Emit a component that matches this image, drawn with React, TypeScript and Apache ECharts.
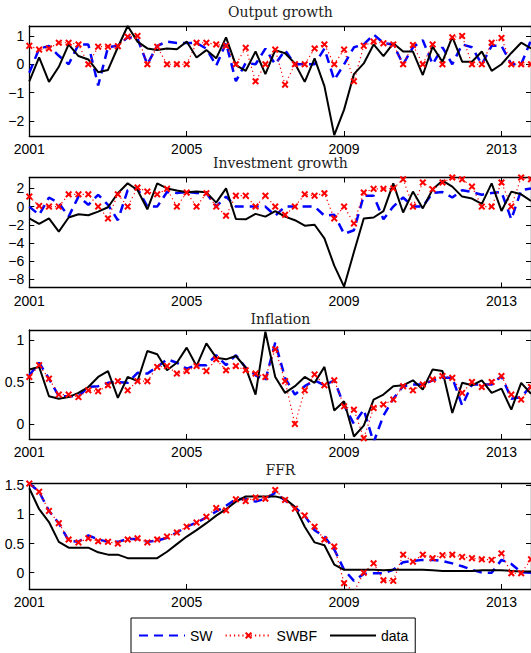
import React, { useEffect, useRef } from 'react';
import * as echarts from 'echarts';

// x: quarter index from 2001Q1
const xTickLabels = ['2001', '2005', '2009', '2013'];
const xTickIndex = [0, 16, 32, 48];

const outputTicks = [-2, -1, 0, 1];
const investTicks = [-8, -6, -4, -2, 0, 2];
const inflTicks = [0, 0.5, 1];
const ffrTicks = [0, 0.5, 1, 1.5];

const outputSW = [-0.3, 0.55, 0.65, 0.3, 0.0, 0.7, 0.7, -0.75, 0.6, 0.65, 0.95, 0.9, 0.0, 0.65, 0.8, 0.75, 0.75, 0.75, 0.55, -0.05, 0.75, -0.6, 0.05, 0.0, 0.55, 0.0, 0.5, 0.0, 0.0, 0.0, 0.55, -0.55, 0.0, 0.6, 0.7, 1.05, 0.75, 0.7, 0.0, 0.6, 0.85, 0.0, 0.6, 0.0, 0.7, 0.6, 0.0, 0.65, 0.65, 0.0, 0.0, 0.85];
const outputSWBF = [0.65, 0.52, 0.56, 0.76, 0.76, 0.7, 0.0, 0.62, 0.62, 0.64, 0.97, 1.0, 0.0, 0.62, 0.0, 0.0, 0.0, 0.76, 0.76, 0.7, 0.65, 0.0, 0.58, -0.6, 0.0, 0.52, -0.72, 0.0, 0.0, 0.56, 0.7, 0.0, 0.52, -0.6, 0.65, 0.8, 0.74, 0.7, 0.0, 0.68, 0.0, 0.7, 0.0, 0.95, 1.0, 0.0, 0.0, 0.76, 0.93, 0.0, 0.0, 0.0];
const outputData = [-0.6, 0.24, -0.62, -0.09, 0.7, 0.29, 0.17, -0.28, -0.2, 0.6, 1.35, 0.8, 0.56, 0.5, 0.56, 0.53, 0.8, 0.24, 0.5, 0.21, 0.95, -0.03, -0.23, 0.45, -0.35, 0.5, 0.39, 0.03, -0.62, 0.21, -0.77, -2.5, -1.6, -0.35, 0.03, 0.7, 0.29, 0.74, 0.45, 0.45, -0.38, 0.62, 0.09, 0.97, 0.09, 0.09, 0.45, -0.23, 0.0, 0.4, 0.76, 0.56];

const investSW = [0.0, -0.9, 1.0, 0.4, -1.1, 1.1, 0.2, 1.3, 0.2, -1.5, 1.8, 2.0, 0.0, 0.0, 1.6, 1.5, 1.6, 1.5, 1.5, 0.0, 1.1, 0.0, 0.0, 0.0, 0.0, -1.0, 0.0, 0.0, 0.0, 0.0, -1.0, -0.9, -3.0, -2.6, 1.2, 1.2, -1.4, 0.0, 1.0, 0.0, 0.0, 1.5, 1.6, 1.0, 1.8, 1.6, 1.3, 1.5, 1.6, -1.4, 1.8, 2.0];
const investSWBF = [1.1, 0.07, 0.0, 0.0, 1.35, 1.35, 1.35, 0.0, -1.3, 1.35, 0.0, 2.1, 1.65, 1.35, 1.95, 0.0, 1.55, 0.0, 1.47, 0.0, -1.0, 1.2, 1.2, 0.0, 1.2, 0.0, -0.9, 0.0, 1.35, 1.2, 1.47, -1.3, 0.0, -1.85, 1.55, 1.95, 1.95, 2.0, 3.0, 0.0, 2.65, 1.9, 2.65, 3.2, 3.0, 2.2, 0.0, 0.0, 2.65, 0.0, 3.2, 3.0];
const investData = [-1.3, -1.9, -1.3, -2.75, -1.2, -0.85, -0.95, -0.55, -0.07, 1.47, 2.56, 1.83, -0.3, 2.56, 2.0, 1.76, 1.57, 1.65, 1.57, 0.44, 2.0, -1.36, -1.4, -0.8, -1.1, -0.5, -1.1, -1.5, -2.1, -2.0, -3.5, -6.5, -8.8, -5.0, -1.3, -1.2, -0.5, 2.56, -0.65, 1.65, -0.2, 1.9, 2.85, 2.2, 1.1, 0.88, 0.3, 2.56, -0.48, 1.65, 1.35, 0.62];

const inflSW = [0.58, 0.73, 0.54, 0.33, 0.33, 0.33, 0.44, 0.45, 0.49, 0.5, 0.49, 0.61, 0.6, 0.68, 0.77, 0.73, 0.66, 0.7, 0.7, 0.82, 0.7, 0.82, 0.67, 0.58, 0.52, 0.97, 0.55, 0.35, 0.45, 0.52, 0.46, 0.52, 0.22, 0.0, 0.17, -0.22, 0.1, 0.3, 0.45, 0.47, 0.47, 0.52, 0.55, 0.55, 0.22, 0.47, 0.47, 0.47, 0.57, 0.3, 0.32, 0.45];
const inflSWBF = [0.56, 0.7, 0.54, 0.35, 0.35, 0.32, 0.4, 0.39, 0.46, 0.51, 0.4, 0.51, 0.51, 0.68, 0.69, 0.6, 0.63, 0.69, 0.63, 0.77, 0.64, 0.69, 0.64, 0.6, 0.56, 0.89, 0.51, 0.0, 0.4, 0.59, 0.46, 0.52, 0.21, 0.17, -0.17, 0.19, 0.23, 0.29, 0.45, 0.4, 0.47, 0.53, 0.57, 0.55, 0.37, 0.5, 0.44, 0.5, 0.57, 0.35, 0.29, 0.44];
const inflData = [0.65, 0.68, 0.33, 0.3, 0.32, 0.37, 0.44, 0.56, 0.63, 0.31, 0.56, 0.51, 0.87, 0.83, 0.64, 0.73, 0.91, 0.69, 0.96, 0.79, 0.77, 0.81, 0.67, 0.35, 1.1, 0.56, 0.37, 0.45, 0.56, 0.49, 0.68, 0.16, 0.27, -0.15, -0.02, 0.29, 0.35, 0.45, 0.46, 0.52, 0.41, 0.65, 0.63, 0.13, 0.49, 0.46, 0.52, 0.37, 0.42, 0.17, 0.49, 0.36];

const ffrSW = [1.53, 1.39, 1.06, 0.85, 0.55, 0.53, 0.64, 0.57, 0.53, 0.53, 0.58, 0.58, 0.53, 0.55, 0.6, 0.69, 0.79, 0.86, 0.95, 1.05, 1.15, 1.26, 1.27, 1.22, 1.27, 1.37, 1.24, 1.12, 0.98, 0.73, 0.62, 0.4, 0.05, -0.14, -0.02, -0.01, -0.01, 0.05, 0.18, 0.2, 0.22, 0.22, 0.2, 0.16, 0.11, 0.05, 0.0, 0.0, 0.22, 0.15, 0.01, 0.0];
const ffrSWBF = [1.53, 1.39, 1.06, 0.85, 0.57, 0.52, 0.59, 0.54, 0.53, 0.5, 0.57, 0.59, 0.52, 0.57, 0.62, 0.69, 0.79, 0.86, 0.96, 1.11, 1.07, 1.26, 1.23, 1.29, 1.27, 1.42, 1.25, 1.1, 0.98, 0.79, 0.57, 0.45, -0.18, -0.33, 0.0, 0.16, -0.13, -0.14, 0.31, 0.19, 0.31, 0.25, 0.3, 0.31, 0.27, 0.25, 0.23, 0.22, 0.33, -0.01, -0.01, 0.23];
const ffrData = [1.45, 1.09, 0.87, 0.53, 0.43, 0.43, 0.43, 0.35, 0.31, 0.31, 0.25, 0.25, 0.25, 0.25, 0.36, 0.49, 0.62, 0.73, 0.85, 0.98, 1.09, 1.22, 1.31, 1.31, 1.31, 1.31, 1.27, 1.13, 0.79, 0.52, 0.47, 0.14, 0.05, 0.05, 0.05, 0.05, 0.04, 0.05, 0.05, 0.05, 0.05, 0.04, 0.03, 0.03, 0.03, 0.03, 0.04, 0.04, 0.04, 0.03, 0.02, 0.02];

const seriesNames = ['SW', 'SWBF', 'data'];
const panelTitles = ['Output growth', 'Investment growth', 'Inflation', 'FFR'];

const X_MARK = 'path://M0,2 L2,0 L5,3 L8,0 L10,2 L7,5 L10,8 L8,10 L5,7 L2,10 L0,8 L3,5 Z';
const SANS = '"Liberation Sans", Arial, Helvetica, sans-serif';
const SERIF = '"DejaVu Serif", "Liberation Serif", serif';

const fmtY = (v: number) => String(v).replace('-', '\u2212');

export default function App() {
  const ref = useRef<HTMLDivElement>(null);
  useEffect(() => {
    if (!ref.current) return;
    const chart = echarts.init(ref.current, undefined, { renderer: 'svg' });
    const panels = [
      { sw: outputSW, swbf: outputSWBF, data: outputData, ticks: outputTicks, min: -2.53, max: 1.35, top: 26, height: 110, titleY: 12 },
      { sw: investSW, swbf: investSWBF, data: investData, ticks: investTicks, min: -8.9, max: 3.2, top: 177.5, height: 110, titleY: 162.5 },
      { sw: inflSW, swbf: inflSWBF, data: inflData, ticks: inflTicks, min: -0.18, max: 1.12, top: 330, height: 109, titleY: 319 },
      { sw: ffrSW, swbf: ffrSWBF, data: ffrData, ticks: ffrTicks, min: -0.28, max: 1.54, top: 483, height: 106, titleY: 470 },
    ];
    const gridLeft = 29.3;
    const gridWidth = 502.2;
    const grids: any[] = [];
    const xAxes: any[] = [];
    const yAxes: any[] = [];
    const series: any[] = [];
    const graphics: any[] = [];
    const axisLine = { show: true, onZero: false, lineStyle: { color: '#000', width: 1.3 } };
    const tickStyle = { inside: true, length: 5, lineStyle: { color: '#000', width: 1 } };
    panels.forEach((p, k) => {
      grids.push({ left: gridLeft, width: gridWidth, top: p.top, height: p.height });
      xAxes.push({
        type: 'value', gridIndex: k, position: 'bottom', min: 0, max: 51, interval: 16,
        axisLine, splitLine: { show: false },
        axisTick: { ...tickStyle, customValues: xTickIndex },
        axisLabel: {
          customValues: xTickIndex,
          formatter: (v: number) => xTickLabels[xTickIndex.indexOf(v)] ?? '',
          color: '#000', fontSize: 14, fontFamily: SANS, margin: 6,
        },
      });
      xAxes.push({
        type: 'value', gridIndex: k, position: 'top', min: 0, max: 51, interval: 16,
        axisLine, splitLine: { show: false },
        axisTick: { ...tickStyle, customValues: xTickIndex },
        axisLabel: { show: false },
      });
      yAxes.push({
        type: 'value', gridIndex: k, position: 'left', min: p.min, max: p.max,
        axisLine, splitLine: { show: false },
        axisTick: { ...tickStyle, customValues: p.ticks },
        axisLabel: { customValues: p.ticks, formatter: fmtY, color: '#000', fontSize: 14, fontFamily: SANS, margin: 5 },
      });
      yAxes.push({
        type: 'value', gridIndex: k, position: 'right', min: p.min, max: p.max,
        axisLine, splitLine: { show: false },
        axisTick: { ...tickStyle, customValues: p.ticks },
        axisLabel: { show: false },
      });
      const toPts = (arr: number[]) => arr.map((v, i) => [i, v]);
      series.push({
        name: 'SW', type: 'line', xAxisIndex: 2 * k, yAxisIndex: 2 * k,
        data: toPts(p.sw), symbol: 'none', showSymbol: false,
        lineStyle: { color: '#0000ff', width: 2.5, type: [9, 6] },
        itemStyle: { color: '#0000ff' },
      });
      series.push({
        name: 'SWBF', type: 'line', xAxisIndex: 2 * k, yAxisIndex: 2 * k,
        data: toPts(p.swbf), symbol: X_MARK, symbolSize: 7, showSymbol: true, showAllSymbol: true,
        lineStyle: { color: '#ff0000', width: 1.2, type: [1.2, 3] },
        itemStyle: { color: '#ff0000' },
      });
      series.push({
        name: 'data', type: 'line', xAxisIndex: 2 * k, yAxisIndex: 2 * k,
        data: toPts(p.data), symbol: 'none', showSymbol: false,
        lineStyle: { color: '#000', width: 2 },
        itemStyle: { color: '#000' },
      });
      graphics.push({
        type: 'text', x: gridLeft + gridWidth / 2, y: p.titleY,
        style: { text: panelTitles[k], font: `14px ${SERIF}`, fill: '#222', align: 'center', verticalAlign: 'middle' },
      });
    });
    chart.setOption({
      animation: false,
      backgroundColor: '#fff',
      grid: grids,
      xAxis: xAxes,
      yAxis: yAxes,
      series,
      graphic: graphics,
      legend: {
        data: [
          { name: seriesNames[0], itemStyle: { opacity: 0 } },
          { name: seriesNames[1] },
          { name: seriesNames[2], itemStyle: { opacity: 0 } },
        ],
        left: 131, top: 618,
        padding: [10.5, 7, 10.5, 7],
        itemWidth: 46, itemHeight: 9, itemGap: 12,
        borderColor: '#000', borderWidth: 1,
        textStyle: { color: '#000', fontSize: 14, fontFamily: SANS },
      },
    });
    return () => chart.dispose();
  }, []);
  return (
    <div
      ref={ref}
      style={{ position: 'fixed', left: 0, top: 0, width: 531, height: 653, overflow: 'hidden', background: '#fff' }}
    />
  );
}
